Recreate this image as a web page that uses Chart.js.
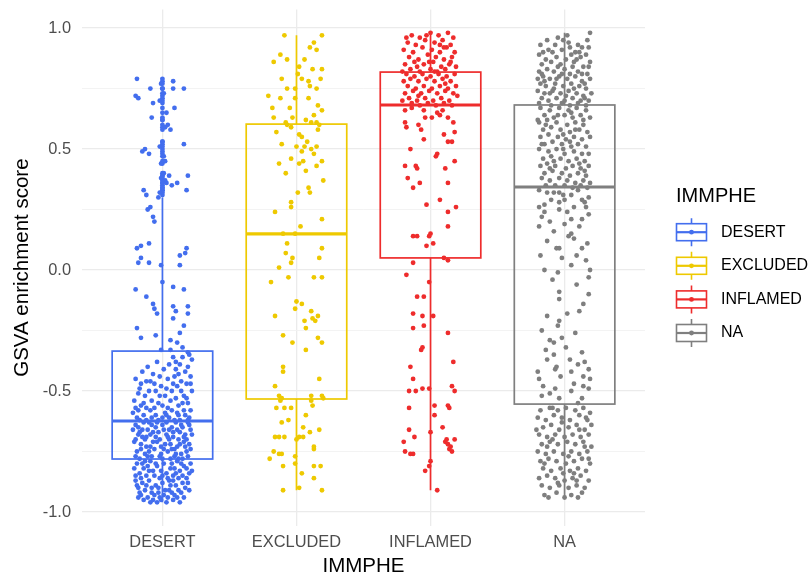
<!DOCTYPE html>
<html>
<head>
<meta charset="utf-8">
<script src="https://cdn.jsdelivr.net/npm/chart.js@4"></script>
<style>
  html, body { margin: 0; padding: 0; background: #ffffff; }
  #wrap { width: 810px; height: 579px; }
</style>
</head>
<body>
<div id="wrap"><canvas id="chart" width="810" height="579"></canvas></div>
<script>
// Immune phenotype groups and their colours
const categories = ['DESERT', 'EXCLUDED', 'INFLAMED', 'NA'];
const colors = ['#436EEE', '#EEC900', '#EE2C2C', '#7F7F7F'];

// Boxplot summaries of the GSVA score per group
const whiskerLow  = [-0.96, -0.91, -0.91, -0.94];
const q1          = [-0.781, -0.533, 0.05, -0.554];
const median      = [-0.624, 0.149, 0.682, 0.343];
const q3          = [-0.335, 0.603, 0.818, 0.682];
const whiskerHigh = [0.30, 0.97, 0.98, 0.98];

// Labelled y ticks (minor grid lines sit halfway between them)
const yTickLabels = [-1.0, -0.5, 0.0, 0.5, 1.0];

// Samples per group: [horizontal jitter, GSVA enrichment score]
const desertPoints = [
  [-0.19,0.79],[-0.20,0.72],[-0.18,0.71],[-0.09,0.75],[-0.07,0.69],[-0.08,0.63],[0.08,0.78],[0.08,0.75],[0.16,0.75],[0.09,0.67],
  [0.03,0.65],[0.04,0.60],[0.06,0.58],[-0.01,0.77],[0.01,0.73],[-0.02,0.70],[0.00,0.62],[0.02,0.59],[-0.13,0.50],[-0.15,0.49],
  [-0.10,0.48],[0.16,0.52],[0.00,0.53],[-0.02,0.51],[0.01,0.47],[0.02,0.45],[-0.01,0.44],[0.07,0.35],[0.11,0.36],[0.19,0.39],
  [0.18,0.33],[-0.14,0.33],[-0.12,0.31],[0.01,0.40],[-0.01,0.38],[0.02,0.37],[0.00,0.34],[-0.02,0.32],[0.03,0.36],[0.05,0.39],
  [-0.03,0.30],[-0.09,0.26],[-0.11,0.25],[-0.06,0.20],[-0.07,0.22],[-0.19,0.09],[-0.16,0.10],[-0.10,0.11],[-0.18,0.03],[-0.16,0.05],
  [-0.10,0.03],[0.13,0.06],[0.18,0.09],[0.17,0.07],[0.13,0.02],[-0.01,0.02],
  [-0.20,-0.08],[0.08,-0.07],[0.16,-0.08],[-0.07,-0.14],[-0.06,-0.16],[-0.04,-0.18],[0.08,-0.15],[0.10,-0.17],[0.19,-0.15],[0.19,-0.18],
  [0.16,-0.23],[0.08,-0.20],[-0.19,-0.24],[-0.16,-0.28],[-0.05,-0.27],[0.06,-0.29],[0.11,-0.30],[0.15,-0.32],[-0.01,-0.33],[0.06,-0.33],
  [0.19,-0.34],[0.00,-0.05],[-0.12,-0.11],[0.13,-0.26],
  [-0.15,-0.42],[-0.12,-0.46],[-0.17,-0.49],[-0.13,-0.52],[-0.06,-0.47],[-0.02,-0.52],[0.04,-0.57],[-0.09,-0.58],[0.10,-0.38],[0.13,-0.39],
  [0.17,-0.42],[0.22,-0.37],[0.20,-0.35],[0.15,-0.36],[0.09,-0.44],[0.12,-0.43],[0.14,-0.46],[0.03,-0.49],[0.07,-0.50],[0.16,-0.52],
  [0.19,-0.55],[0.21,-0.58],[0.11,-0.59],[-0.18,-0.58],[-0.05,-0.60],[0.05,-0.61],[-0.12,-0.62],[0.01,-0.41],[-0.02,-0.44],[0.18,-0.47],
  [-0.20,-0.45],[-0.21,-0.54],[-0.16,-0.56],[-0.08,-0.54],[0.00,-0.56],[0.06,-0.54],[0.12,-0.56],[0.17,-0.60],[-0.14,-0.60],[-0.19,-0.61],
  [0.20,-0.61],[0.09,-0.62],[-0.03,-0.62],[0.02,-0.59],[-0.10,-0.50],[-0.04,-0.38],[0.08,-0.36],[0.19,-0.40],[0.21,-0.44],[0.14,-0.50],
  [0.10,-0.53],[-0.07,-0.43],[-0.11,-0.40],[-0.18,-0.51],[0.04,-0.45],[-0.14,-0.55],[0.16,-0.58],[-0.01,-0.48],[0.13,-0.62],[-0.22,-0.59],
  [-0.06,-0.57],[0.07,-0.58],[0.18,-0.53],[-0.09,-0.46],[0.11,-0.48],[0.02,-0.52],[-0.16,-0.47],[0.22,-0.50],[-0.20,-0.57],[0.15,-0.55],
  [-0.03,-0.55],[0.05,-0.39],[0.10,-0.41],[-0.08,-0.61],[0.19,-0.62],[-0.17,-0.62],[0.00,-0.61],[0.08,-0.47],[-0.12,-0.57],[0.03,-0.60],
  [-0.05,-0.50],[0.21,-0.47],[0.12,-0.60],
  [-0.20,-0.64],[-0.15,-0.66],[-0.10,-0.63],[-0.05,-0.65],[0.00,-0.64],[0.05,-0.66],[0.10,-0.63],[0.15,-0.65],[0.20,-0.64],[-0.18,-0.68],
  [-0.12,-0.69],[-0.07,-0.67],[-0.02,-0.70],[0.03,-0.68],[0.08,-0.69],[0.13,-0.67],[0.18,-0.70],[0.22,-0.68],[-0.21,-0.71],[-0.16,-0.72],
  [-0.09,-0.73],[-0.04,-0.71],[0.01,-0.74],[0.06,-0.72],[0.11,-0.73],[0.16,-0.71],[0.21,-0.74],[-0.19,-0.75],[-0.13,-0.76],[-0.08,-0.77],
  [-0.01,-0.76],[0.04,-0.75],[0.09,-0.77],[0.14,-0.76],[0.19,-0.77],[-0.17,-0.78],[-0.11,-0.66],[0.07,-0.65],[-0.06,-0.74],[0.12,-0.70],
  [-0.14,-0.63],[0.17,-0.68],[-0.03,-0.67],[0.02,-0.72],[0.09,-0.74],[-0.20,-0.70],[0.20,-0.72],[-0.10,-0.75],[0.06,-0.78],[-0.05,-0.69],
  [0.14,-0.64],[-0.16,-0.74],[0.11,-0.66],[-0.08,-0.64],[0.03,-0.63],[-0.13,-0.70],[0.18,-0.75],[-0.22,-0.66],[0.00,-0.78],[0.15,-0.78],
  [-0.07,-0.71],[0.08,-0.67],[-0.18,-0.65],[0.21,-0.66],[-0.01,-0.73],[0.13,-0.72],[-0.11,-0.77],[0.05,-0.70],[-0.15,-0.69],[0.19,-0.63],
  [-0.04,-0.63],[0.10,-0.76],[-0.20,-0.77],[0.16,-0.69],[-0.09,-0.68],[0.01,-0.66],[0.07,-0.74],[-0.12,-0.73],[0.12,-0.78],[-0.02,-0.77],
  [0.17,-0.73],[-0.17,-0.67],[0.04,-0.69],
  [-0.19,-0.80],[-0.14,-0.82],[-0.09,-0.79],[-0.04,-0.81],[0.01,-0.80],[0.06,-0.82],[0.11,-0.79],[0.16,-0.81],[0.21,-0.80],[-0.17,-0.84],
  [-0.12,-0.85],[-0.07,-0.83],[-0.02,-0.86],[0.03,-0.84],[0.08,-0.85],[0.13,-0.83],[0.18,-0.86],[-0.20,-0.87],[-0.15,-0.88],[-0.10,-0.87],
  [-0.05,-0.89],[0.00,-0.88],[0.05,-0.87],[0.10,-0.89],[0.15,-0.88],[0.20,-0.84],[-0.18,-0.90],[-0.13,-0.91],[-0.08,-0.92],[-0.03,-0.90],
  [0.02,-0.91],[0.07,-0.92],[0.12,-0.91],[0.17,-0.90],[-0.16,-0.93],[-0.11,-0.94],[-0.06,-0.93],[-0.01,-0.95],[0.04,-0.94],[0.09,-0.93],
  [0.14,-0.92],[-0.14,-0.95],[-0.09,-0.96],[-0.04,-0.96],[0.03,-0.96],[0.08,-0.95],[-0.21,-0.82],[0.22,-0.83],[-0.11,-0.81],[0.14,-0.80],
  [-0.06,-0.85],[0.09,-0.82],[-0.16,-0.86],[0.19,-0.88],[0.04,-0.86],[-0.01,-0.83],[-0.19,-0.89],[0.12,-0.86],[-0.08,-0.90],[0.06,-0.89],
  [-0.13,-0.79],[0.18,-0.82],[-0.03,-0.92],[0.11,-0.94],[-0.17,-0.92],[0.01,-0.93],[0.16,-0.94],[-0.10,-0.83],[0.07,-0.80],[-0.05,-0.80],
  [0.20,-0.91],[-0.15,-0.80],[0.13,-0.96],[-0.07,-0.95],[0.00,-0.85],[-0.20,-0.85],[0.10,-0.84],[-0.12,-0.89],[0.05,-0.91],[-0.02,-0.94],
  [0.15,-0.85],[-0.18,-0.94],[0.08,-0.87]
];

const excludedPoints = [
  [-0.09,0.97],[0.19,0.97],[0.13,0.94],[0.10,0.92],[0.15,0.91],[-0.17,0.86],[-0.12,0.89],[-0.07,0.87],[0.06,0.87],[0.12,0.83],
  [0.19,0.83],[-0.11,0.79],[0.01,0.81],[-0.01,0.75],[-0.07,0.75],[0.09,0.78],[0.15,0.75],[-0.12,0.71],[-0.01,0.71],[0.09,0.71],
  [-0.18,0.67],[-0.17,0.63],[-0.05,0.67],[0.16,0.68],[0.19,0.66],[0.13,0.64],[0.04,0.79],[0.10,0.76],[0.02,0.84],[0.18,0.79],
  [-0.21,0.72],[0.07,0.62],[0.11,0.61],[-0.03,0.63],[-0.08,0.61],
  [-0.07,0.60],[-0.04,0.59],[0.15,0.61],[0.17,0.60],[0.16,0.58],[0.02,0.56],[0.04,0.55],[-0.11,0.52],[0.00,0.51],[0.06,0.51],
  [0.11,0.50],[0.15,0.51],[0.04,0.49],[-0.04,0.46],[0.02,0.44],[0.05,0.45],[-0.13,0.44],[0.15,0.43],[0.19,0.45],[0.07,0.41],
  [0.20,0.37],[0.01,0.32],[0.09,0.34],[0.10,0.32],[-0.04,0.28],[-0.04,0.26],[-0.16,0.24],[0.19,0.21],[-0.10,0.15],[-0.01,0.15],
  [0.13,0.48],[-0.08,0.40],[0.08,0.53],[-0.15,0.57],[0.03,0.18],
  [-0.07,0.11],[-0.08,0.07],[-0.03,0.05],[-0.04,0.03],[-0.13,0.01],[0.19,0.09],[0.17,0.05],[-0.06,-0.03],[0.13,-0.03],[0.19,-0.03],
  [-0.19,-0.05],[0.00,-0.13],[0.04,-0.14],[-0.01,-0.16],[0.11,-0.17],[0.16,-0.19],[-0.16,-0.19],[0.06,-0.21],[0.07,-0.24],[-0.10,-0.27],
  [-0.03,-0.30],[0.16,-0.28],[0.19,-0.30],[0.07,-0.33],[-0.10,-0.40],[-0.10,-0.42],[0.17,-0.45],[-0.16,-0.48],[-0.13,-0.52],[-0.11,-0.53],
  [0.11,-0.52],[0.19,-0.52],[0.12,-0.20],[0.14,-0.21],
  [-0.12,-0.54],[-0.15,-0.57],[-0.09,-0.57],[-0.04,-0.57],[0.11,-0.54],[0.20,-0.53],[0.12,-0.56],[-0.11,-0.63],[0.05,-0.65],[0.10,-0.67],
  [0.17,-0.66],[-0.16,-0.69],[-0.13,-0.69],[-0.09,-0.69],[0.00,-0.70],[0.02,-0.69],[0.05,-0.69],[0.13,-0.73],[0.13,-0.74],[-0.17,-0.75],
  [-0.13,-0.76],[-0.11,-0.76],[-0.20,-0.78],[-0.10,-0.81],[-0.01,-0.77],[-0.01,-0.80],[0.13,-0.81],[0.18,-0.81],[0.04,-0.84],[0.13,-0.86],
  [-0.10,-0.91],[0.02,-0.90],[0.19,-0.91],[0.07,-0.60],[-0.06,-0.62]
];

const inflamedPoints = [
  [-0.14,0.97],[-0.08,0.96],[0.00,0.98],[0.06,0.97],[0.13,0.98],[0.17,0.96],[-0.17,0.94],[-0.11,0.93],[-0.04,0.95],[0.03,0.94],
  [0.09,0.95],[0.15,0.93],[-0.20,0.91],[-0.13,0.90],[-0.06,0.92],[0.01,0.91],[0.07,0.90],[0.12,0.92],[0.18,0.90],[-0.16,0.88],
  [-0.09,0.87],[-0.02,0.89],[0.04,0.88],[0.10,0.87],[0.16,0.88],[-0.19,0.85],[-0.12,0.86],[-0.05,0.85],[0.02,0.86],[0.08,0.84],
  [0.14,0.85],[0.19,0.84],[-0.15,0.83],[-0.08,0.82],[0.00,0.83],[0.05,0.82],[0.11,0.83],[-0.21,0.82],[-0.03,0.97],[0.10,0.92],
  [-0.18,0.96],[0.15,0.86],[-0.10,0.84],[0.07,0.93],[-0.01,0.86],
  [-0.18,0.81],[-0.12,0.80],[-0.06,0.81],[0.00,0.80],[0.06,0.81],[0.12,0.80],[0.18,0.81],[-0.20,0.78],[-0.15,0.79],[-0.09,0.78],
  [-0.03,0.79],[0.03,0.78],[0.09,0.79],[0.15,0.78],[-0.17,0.76],[-0.11,0.75],[-0.05,0.76],[0.01,0.75],[0.07,0.76],[0.13,0.75],
  [0.19,0.76],[-0.19,0.73],[-0.13,0.74],[-0.07,0.73],[-0.01,0.74],[0.05,0.73],[0.11,0.74],[0.17,0.73],[-0.16,0.71],[-0.10,0.70],
  [-0.04,0.71],[0.02,0.70],[0.08,0.71],[0.14,0.70],[-0.14,0.69],[-0.08,0.68],[-0.02,0.69],[0.04,0.68],[0.10,0.69],[0.16,0.68],
  [-0.21,0.70],[0.20,0.72],[0.03,0.82],[-0.09,0.72],[0.11,0.77],
  [-0.19,0.66],[-0.05,0.66],[0.01,0.63],[0.07,0.64],[0.09,0.66],[0.13,0.63],[-0.04,0.63],[-0.19,0.61],[-0.18,0.59],[-0.07,0.58],
  [0.18,0.57],[-0.05,0.54],[0.13,0.53],[0.16,0.53],[0.05,0.48],[0.04,0.47],[-0.19,0.43],[-0.11,0.43],[-0.10,0.42],[0.11,0.42],
  [-0.17,0.38],[-0.13,0.34],[-0.08,0.36],[0.13,0.36],[0.07,0.29],[-0.03,0.27],[0.19,0.26],[0.13,0.24],[0.13,0.18],[-0.13,0.14],
  [-0.10,0.14],[0.00,0.15],[-0.01,0.14],[-0.03,0.10],[0.02,0.11],[0.10,0.05],[-0.14,0.67],[0.05,0.65],[0.17,0.61],[-0.09,0.60],
  [0.10,0.56],[-0.15,0.50],[0.18,0.45],
  [0.13,0.04],[-0.13,0.03],[-0.01,-0.05],[-0.10,-0.11],[-0.05,-0.11],[-0.13,-0.18],[-0.06,-0.19],[0.02,-0.19],[-0.13,-0.24],[-0.05,-0.23],
  [0.13,-0.26],[-0.07,-0.33],[-0.06,-0.32],[0.17,-0.38],[-0.15,-0.40],[-0.13,-0.45],[-0.16,-0.50],[-0.11,-0.50],[-0.06,-0.49],[-0.01,-0.49],
  [0.16,-0.48],[0.18,-0.50],[0.03,-0.56],[0.03,-0.60],[0.13,-0.56],[0.14,-0.57],[-0.16,-0.57],[0.09,-0.65],[-0.16,-0.66],[-0.12,-0.69],
  [0.00,-0.67],[-0.20,-0.71],[-0.19,-0.75],[-0.15,-0.76],[-0.13,-0.76],[0.11,-0.71],[0.13,-0.72],[0.15,-0.73],[0.18,-0.70],[0.16,-0.75],
  [0.00,-0.79],[-0.01,-0.81],[-0.04,-0.83],[0.05,-0.91],[0.14,-0.74],[0.12,-0.70],[-0.18,-0.02]
];

const naPoints = [
  [0.19,0.98],[-0.05,0.96],[0.17,0.95],[-0.18,0.93],[-0.07,0.93],[0.03,0.94],[0.13,0.92],[-0.12,0.91],[0.08,0.90],[-0.19,0.89],
  [0.16,0.89],[-0.02,0.91],[0.10,0.93],[-0.14,0.87],[-0.06,0.88],[0.01,0.87],[0.05,0.89],[0.12,0.88],[0.19,0.86],[-0.17,0.85],
  [-0.10,0.86],[-0.03,0.85],[0.07,0.86],[0.14,0.84],[-0.19,0.82],[-0.13,0.83],[-0.08,0.82],[0.00,0.83],[0.04,0.81],[0.10,0.82],
  [0.17,0.81],[-0.16,0.80],[-0.11,0.79],[-0.04,0.80],[0.02,0.79],[0.08,0.80],[0.13,0.78],[0.19,0.79],[-0.18,0.77],[-0.14,0.76],
  [-0.07,0.77],[-0.01,0.76],[0.05,0.77],[0.11,0.76],[0.16,0.75],[-0.20,0.74],[-0.15,0.73],[-0.09,0.74],[-0.03,0.73],[0.03,0.74],
  [0.09,0.73],[0.14,0.72],[0.20,0.73],[-0.17,0.71],[-0.12,0.70],[-0.06,0.71],[0.00,0.70],[0.06,0.71],[0.12,0.70],[0.18,0.70],
  [-0.19,0.69],[-0.10,0.68],[-0.02,0.69],[0.04,0.68],[0.10,0.69],[0.16,0.68],[-0.15,0.78],[0.06,0.84],[-0.09,0.90],[0.15,0.77],
  [-0.01,0.95],[-0.13,0.95],[0.09,0.87],[-0.05,0.84],[0.18,0.84],[-0.17,0.81],[0.01,0.72],[-0.08,0.75],[0.07,0.75],[0.13,0.81],
  [-0.11,0.73],[0.11,0.90],[-0.02,0.81],[0.04,0.92],[-0.16,0.90],[0.18,0.92],[-0.20,0.79],[0.02,0.97],[-0.06,0.79],[0.15,0.71],
  [-0.18,0.67],[-0.11,0.66],[-0.04,0.67],[0.03,0.66],[0.09,0.67],[0.16,0.66],[-0.15,0.64],[-0.08,0.63],[0.00,0.64],[0.06,0.63],
  [0.12,0.64],[0.19,0.63],[-0.19,0.61],[-0.13,0.62],[-0.06,0.61],[0.02,0.60],[0.08,0.61],[0.14,0.60],[-0.16,0.58],[-0.10,0.59],
  [-0.03,0.58],[0.04,0.57],[0.11,0.58],[0.17,0.57],[-0.18,0.55],[-0.12,0.56],[-0.05,0.55],[0.01,0.54],[0.07,0.55],[0.13,0.54],
  [0.19,0.55],[-0.15,0.52],[-0.09,0.53],[-0.02,0.52],[0.05,0.51],[0.10,0.52],[0.16,0.51],[-0.19,0.50],[-0.12,0.49],[-0.06,0.50],
  [0.00,0.48],[0.07,0.49],[0.13,0.48],[-0.16,0.46],[-0.10,0.47],[-0.03,0.46],[0.03,0.45],[0.09,0.46],[0.15,0.45],[-0.18,0.43],
  [-0.13,0.44],[-0.07,0.43],[0.01,0.42],[0.06,0.43],[0.12,0.42],[0.18,0.43],[-0.15,0.40],[-0.09,0.41],[-0.02,0.40],[0.04,0.39],
  [0.10,0.40],[0.16,0.39],[-0.17,0.38],[-0.11,0.37],[-0.04,0.38],[0.02,0.37],[0.08,0.36],[0.14,0.37],[0.19,0.36],[-0.14,0.35],
  [-0.07,0.35],[0.00,0.35],[0.06,0.34],[0.12,0.35],[0.17,0.34],[-0.20,0.62],[0.14,0.62],[-0.01,0.56],[-0.17,0.52],[0.08,0.58],
  [-0.08,0.45],[0.11,0.44],[-0.14,0.60],[0.05,0.65],[-0.05,0.64],[0.18,0.48],[-0.01,0.50],[0.15,0.41],[-0.11,0.42],[0.04,0.53],
  [-0.19,0.33],[-0.13,0.32],[-0.08,0.32],[-0.04,0.32],[0.00,0.29],[0.05,0.31],[0.13,0.29],[0.18,0.30],[-0.19,0.26],[-0.15,0.27],
  [-0.04,0.28],[0.07,0.26],[0.16,0.26],[-0.15,0.24],[-0.04,0.25],[0.05,0.21],[0.13,0.21],[0.18,0.23],[-0.19,0.18],[-0.11,0.20],
  [0.05,0.15],[0.07,0.13],[0.03,0.14],[-0.06,0.09],[-0.04,0.09],[-0.02,0.05],[0.09,0.06],[0.16,0.04],[-0.15,0.00],[-0.05,-0.01],
  [0.19,0.00],[0.18,-0.03],[0.09,-0.06],[-0.04,-0.09],[0.18,-0.10],[-0.04,-0.12],[0.11,-0.17],[-0.13,-0.19],[-0.04,-0.21],[-0.05,-0.23],
  [-0.11,-0.29],[-0.08,-0.30],[-0.02,-0.28],[0.13,-0.34],[-0.13,-0.37],[-0.08,-0.35],[0.04,-0.37],[0.15,-0.38],[0.18,-0.41],[-0.07,-0.41],
  [0.05,-0.42],[0.14,-0.44],[-0.19,-0.45],[-0.16,-0.48],[-0.07,-0.49],[0.07,-0.47],[0.14,-0.48],[0.18,-0.49],[-0.17,-0.52],[-0.04,-0.53],
  [0.13,-0.53],[0.10,0.33],[-0.01,0.31],[0.15,0.28],[-0.10,0.29],[0.02,0.24],[-0.17,0.22],[0.11,0.18],[-0.08,0.16],[0.17,0.11],
  [-0.13,0.12],[0.00,0.19],[0.13,0.09],[-0.18,0.06],[0.05,0.02],[-0.09,-0.04],[0.14,-0.14],[-0.17,-0.25],[0.08,-0.26],[0.01,-0.32],
  [-0.14,-0.33],[0.10,-0.39],[-0.03,-0.44],[0.19,-0.45],[-0.11,-0.51],[0.05,-0.50],[0.10,-0.55],[-0.20,-0.42],[0.02,-0.18],[-0.06,-0.40],
  [-0.18,-0.58],[-0.11,-0.57],[-0.05,-0.58],[0.01,-0.57],[0.08,-0.58],[0.14,-0.57],[0.19,-0.59],[-0.20,-0.61],[-0.14,-0.62],[-0.08,-0.60],
  [-0.02,-0.61],[0.04,-0.62],[0.11,-0.60],[0.17,-0.62],[-0.16,-0.65],[-0.10,-0.64],[-0.04,-0.66],[0.03,-0.65],[0.09,-0.64],[0.15,-0.66],
  [0.20,-0.64],[-0.19,-0.68],[-0.13,-0.69],[-0.07,-0.68],[0.00,-0.69],[0.06,-0.68],[0.12,-0.69],[0.18,-0.68],[-0.17,-0.72],[-0.11,-0.71],
  [-0.05,-0.72],[0.02,-0.71],[0.08,-0.72],[0.14,-0.71],[0.20,-0.73],[-0.20,-0.75],[-0.14,-0.76],[-0.08,-0.75],[-0.01,-0.76],[0.05,-0.75],
  [0.11,-0.76],[0.17,-0.75],[-0.18,-0.79],[-0.12,-0.78],[-0.06,-0.79],[0.01,-0.80],[0.07,-0.79],[0.13,-0.78],[0.19,-0.80],[-0.16,-0.82],
  [-0.10,-0.83],[-0.03,-0.82],[0.04,-0.83],[0.10,-0.82],[0.16,-0.83],[-0.19,-0.86],[-0.13,-0.85],[-0.07,-0.86],[0.00,-0.87],[0.06,-0.86],
  [0.12,-0.85],[0.18,-0.87],[-0.17,-0.89],[-0.11,-0.90],[-0.04,-0.89],[0.03,-0.90],[0.09,-0.89],[0.15,-0.90],[-0.15,-0.93],[-0.06,-0.92],
  [0.05,-0.93],[0.13,-0.92],[-0.12,-0.94],[0.00,-0.94],[0.10,-0.94],[-0.09,-0.70],[0.15,-0.73],[-0.02,-0.63],[0.07,-0.84],[-0.15,-0.80],
  [0.18,-0.78],[-0.05,-0.88],[0.11,-0.66],[-0.21,-0.66],[0.03,-0.77],[-0.09,-0.57],[0.16,-0.61],[-0.13,-0.73],[0.09,-0.87],[-0.01,-0.84]
];

const groupPoints = [desertPoints, excludedPoints, inflamedPoints, naPoints];

const FONT = '"Liberation Sans", Arial, Helvetica, sans-serif';
const BOX_HALF = 0.375;
const POINT_R = 2.4;

// Jittered sample points, one dataset per group
const datasets = groupPoints.map((pts, i) => ({
  label: categories[i],
  data: pts.map(p => ({ x: i + 1 + p[0], y: p[1] })),
  backgroundColor: colors[i],
  borderWidth: 0,
  pointRadius: POINT_R,
  pointHoverRadius: POINT_R
}));

// Boxplot outliers sit on the group centre line
groupPoints.forEach((pts, i) => {
  const out = pts.filter(p => p[1] > whiskerHigh[i] || p[1] < whiskerLow[i]);
  if (out.length) {
    datasets.push({
      label: categories[i] + ' outliers',
      data: out.map(p => ({ x: i + 1, y: p[1] })),
      backgroundColor: colors[i],
      borderWidth: 0,
      pointRadius: POINT_R,
      pointHoverRadius: POINT_R
    });
  }
});

// Box, whiskers and median drawn over the points
const boxPlugin = {
  id: 'boxes',
  afterDatasetsDraw(chart) {
    const { ctx, scales: { x, y } } = chart;
    ctx.save();
    categories.forEach((c, i) => {
      const cx = x.getPixelForValue(i + 1);
      const l = x.getPixelForValue(i + 1 - BOX_HALF);
      const r = x.getPixelForValue(i + 1 + BOX_HALF);
      const yq1 = y.getPixelForValue(q1[i]);
      const yq3 = y.getPixelForValue(q3[i]);
      const ymed = y.getPixelForValue(median[i]);
      const ylo = y.getPixelForValue(whiskerLow[i]);
      const yhi = y.getPixelForValue(whiskerHigh[i]);
      ctx.strokeStyle = colors[i];
      ctx.lineWidth = 1.7;
      ctx.beginPath();
      ctx.moveTo(cx, yq3); ctx.lineTo(cx, yhi);
      ctx.moveTo(cx, yq1); ctx.lineTo(cx, ylo);
      ctx.stroke();
      ctx.strokeRect(l, yq3, r - l, yq1 - yq3);
      ctx.lineWidth = 3.2;
      ctx.beginPath();
      ctx.moveTo(l, ymed); ctx.lineTo(r, ymed);
      ctx.stroke();
    });
    ctx.restore();
  }
};

// Legend with boxplot keys, right of the panel
const legendPlugin = {
  id: 'boxLegend',
  afterDraw(chart) {
    const { ctx, chartArea } = chart;
    const left = chartArea.right + 31;
    const mid = (chartArea.top + chartArea.bottom) / 2;
    const step = 33.6;
    ctx.save();
    ctx.fillStyle = '#000000';
    ctx.textBaseline = 'middle';
    ctx.textAlign = 'left';
    ctx.font = '20px ' + FONT;
    ctx.fillText('IMMPHE', left, mid - 71.5);
    categories.forEach((c, i) => {
      const cy = mid - 35.4 + i * step;
      const kx = left + 15.5;
      ctx.strokeStyle = colors[i];
      ctx.lineWidth = 1.6;
      ctx.beginPath();
      ctx.moveTo(kx, cy - 14); ctx.lineTo(kx, cy - 8.5);
      ctx.moveTo(kx, cy + 8.5); ctx.lineTo(kx, cy + 14);
      ctx.stroke();
      ctx.strokeRect(left + 0.5, cy - 8.5, 30, 17);
      ctx.lineWidth = 2.2;
      ctx.beginPath();
      ctx.moveTo(left + 0.5, cy); ctx.lineTo(left + 30.5, cy);
      ctx.stroke();
      ctx.fillStyle = colors[i];
      ctx.beginPath();
      ctx.arc(kx, cy, 2.4, 0, Math.PI * 2);
      ctx.fill();
      ctx.fillStyle = '#000000';
      ctx.font = '16px ' + FONT;
      ctx.fillText(c, left + 45, cy);
    });
    ctx.restore();
  }
};

const isLabelled = v => yTickLabels.some(t => Math.abs(t - v) < 1e-6);

new Chart(document.getElementById('chart'), {
  type: 'scatter',
  data: { datasets },
  plugins: [boxPlugin, legendPlugin],
  options: {
    responsive: false,
    animation: false,
    events: [],
    layout: { padding: { top: 9.4, right: 165, bottom: 0, left: 0 } },
    plugins: {
      legend: { display: false },
      tooltip: { enabled: false }
    },
    scales: {
      x: {
        type: 'linear',
        min: 0.4,
        max: 4.6,
        afterBuildTicks(scale) {
          scale.ticks = categories.map((c, i) => ({ value: i + 1 }));
        },
        afterFit(scale) {
          scale.height = 53.2;
          scale.paddingLeft = 0;
          scale.paddingRight = 0;
        },
        ticks: {
          callback: v => categories[Math.round(v) - 1],
          color: '#4D4D4D',
          font: { family: FONT, size: 16.4 },
          padding: 6.5,
          maxRotation: 0,
          autoSkip: false
        },
        grid: { color: '#EBEBEB', lineWidth: 1.3, drawTicks: false },
        border: { display: false },
        title: {
          display: true,
          text: 'IMMPHE',
          color: '#000000',
          font: { family: FONT, size: 20.5 },
          padding: { top: 0, bottom: 0.4 }
        }
      },
      y: {
        min: -1.057,
        max: 1.077,
        afterBuildTicks(scale) {
          const t = [];
          for (let k = -4; k <= 4; k++) t.push({ value: k * 0.25 });
          scale.ticks = t;
        },
        afterFit(scale) {
          scale.width = 82;
          scale.paddingTop = 0;
          scale.paddingBottom = 0;
        },
        ticks: {
          callback: v => isLabelled(v) ? v.toFixed(1) : '',
          color: '#4D4D4D',
          font: { family: FONT, size: 16.4 },
          padding: 11,
          autoSkip: false
        },
        grid: {
          drawTicks: false,
          color: ctx => isLabelled(ctx.tick.value) ? '#EBEBEB' : '#F2F2F2',
          lineWidth: ctx => isLabelled(ctx.tick.value) ? 1.3 : 0.9
        },
        border: { display: false },
        title: {
          display: true,
          text: 'GSVA enrichment score',
          color: '#000000',
          font: { family: FONT, size: 20.5 },
          padding: { top: 9.7, bottom: 0 }
        }
      }
    }
  }
});
</script>
</body>
</html>
